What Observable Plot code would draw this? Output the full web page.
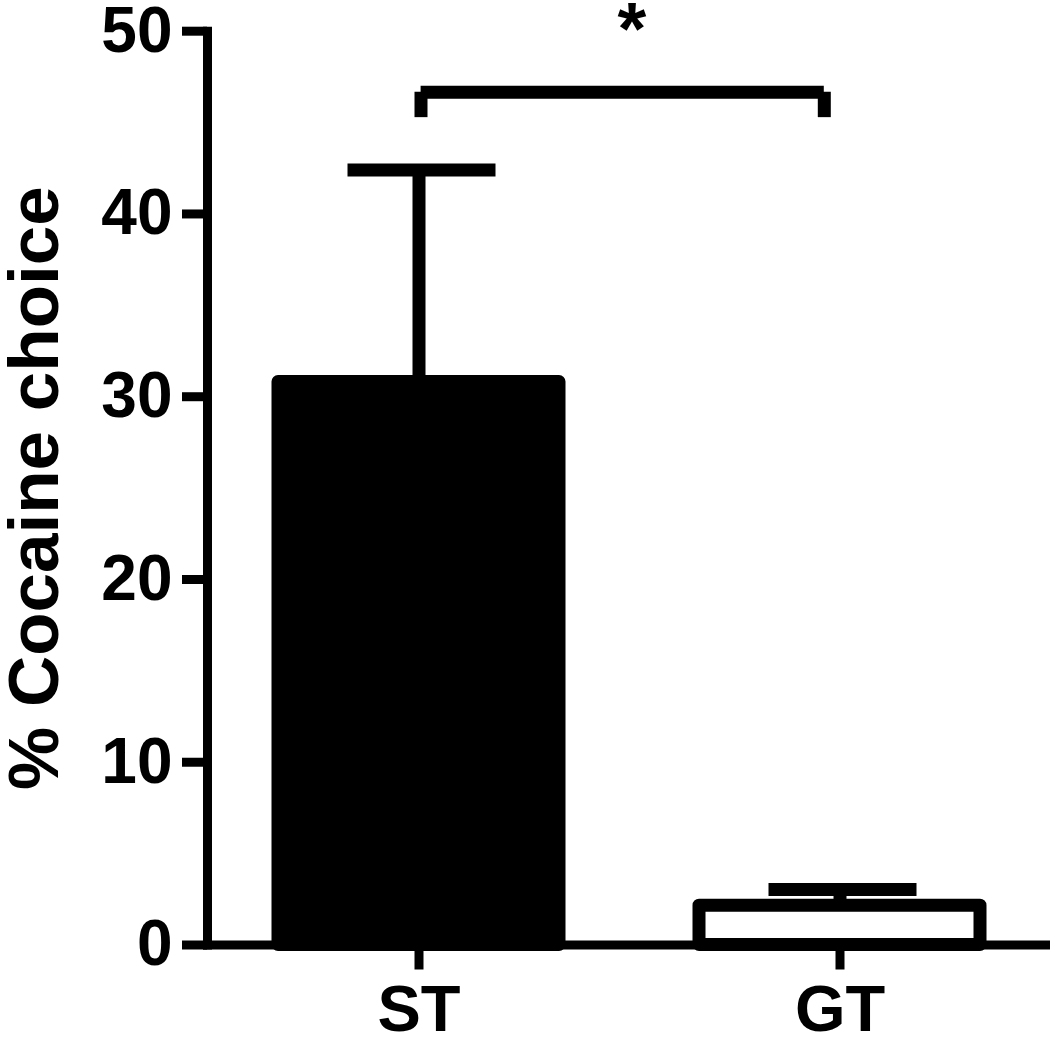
<!DOCTYPE html>
<html><head><meta charset="utf-8">
<script src="https://cdn.jsdelivr.net/npm/d3@7"></script>
<script src="https://cdn.jsdelivr.net/npm/@observablehq/plot@0.6"></script>
<style>body{margin:0;background:#fff;}</style>
</head><body><div id="chart"></div>
<script>
const groups = ["ST", "GT"];
const means = [30.8, 2.15];
const sems = [11.6, 0.89];
const yTicks = [0, 10, 20, 30, 40, 50];
const yLabel = "% Cocaine choice";
const comparison = [{from: "ST", to: "GT", top: 46.66, bottom: 45.27, label: "*"}];

const data = groups.map((g, i) => ({group: g, mean: means[i], upper: means[i] + sems[i]}));
const font = "Liberation Sans, Arial, Helvetica, sans-serif";
const chart = Plot.plot({
  width: 1050, height: 1037,
  marginLeft: 207, marginRight: 0, marginTop: 30.7, marginBottom: 92.5,
  style: {fontFamily: font, background: "white", overflow: "visible", color: "black"},
  x: {domain: groups, paddingInner: 0.333, paddingOuter: 0.167},
  y: {domain: [0, 50]},
  marks: [
    Plot.ruleX(data, {x: "group", y1: "mean", y2: "upper", strokeWidth: 13}),
    Plot.tickY(data, {x: "group", y: "upper", strokeWidth: 13, insetLeft: 69.5, insetRight: 63.5}),
    Plot.barY(data, {x: "group", y: "mean", fill: d => d.group === "ST" ? "black" : "white", stroke: "black", strokeWidth: 13, strokeLinejoin: "round"}),
    Plot.frame({anchor: "left", strokeWidth: 9}),
    Plot.frame({anchor: "bottom", strokeWidth: 9}),
    Plot.axisY({ticks: yTicks, tickSize: 25, tickPadding: 10, strokeWidth: 9, fontSize: 64, fontWeight: "bold",
      label: null, tickFormat: d => String(d)}),
    Plot.axisY({ticks: [], fontSize: 71, fontWeight: "bold",
      label: yLabel, labelAnchor: "center", labelArrow: "none", labelOffset: 200}),
    Plot.axisX({tickSize: 25, tickPadding: 15, strokeWidth: 9, fontSize: 65, fontWeight: "bold", label: null}),
    Plot.ruleY(comparison, {x1: "from", x2: "to", y: "top", strokeWidth: 13, insetLeft: 142.6, insetRight: 156.2}),
    Plot.ruleX(comparison, {x: "from", y1: "bottom", y2: "top", strokeWidth: 13, dx: 2}),
    Plot.ruleX(comparison, {x: "to", y1: "bottom", y2: "top", strokeWidth: 13, dx: -15.7}),
    Plot.text(comparison, {text: "label", y: 50.05, fontSize: 74, fontWeight: "bold", dx: 3})
  ]
});
document.getElementById("chart").appendChild(chart);
</script>
</body></html>
